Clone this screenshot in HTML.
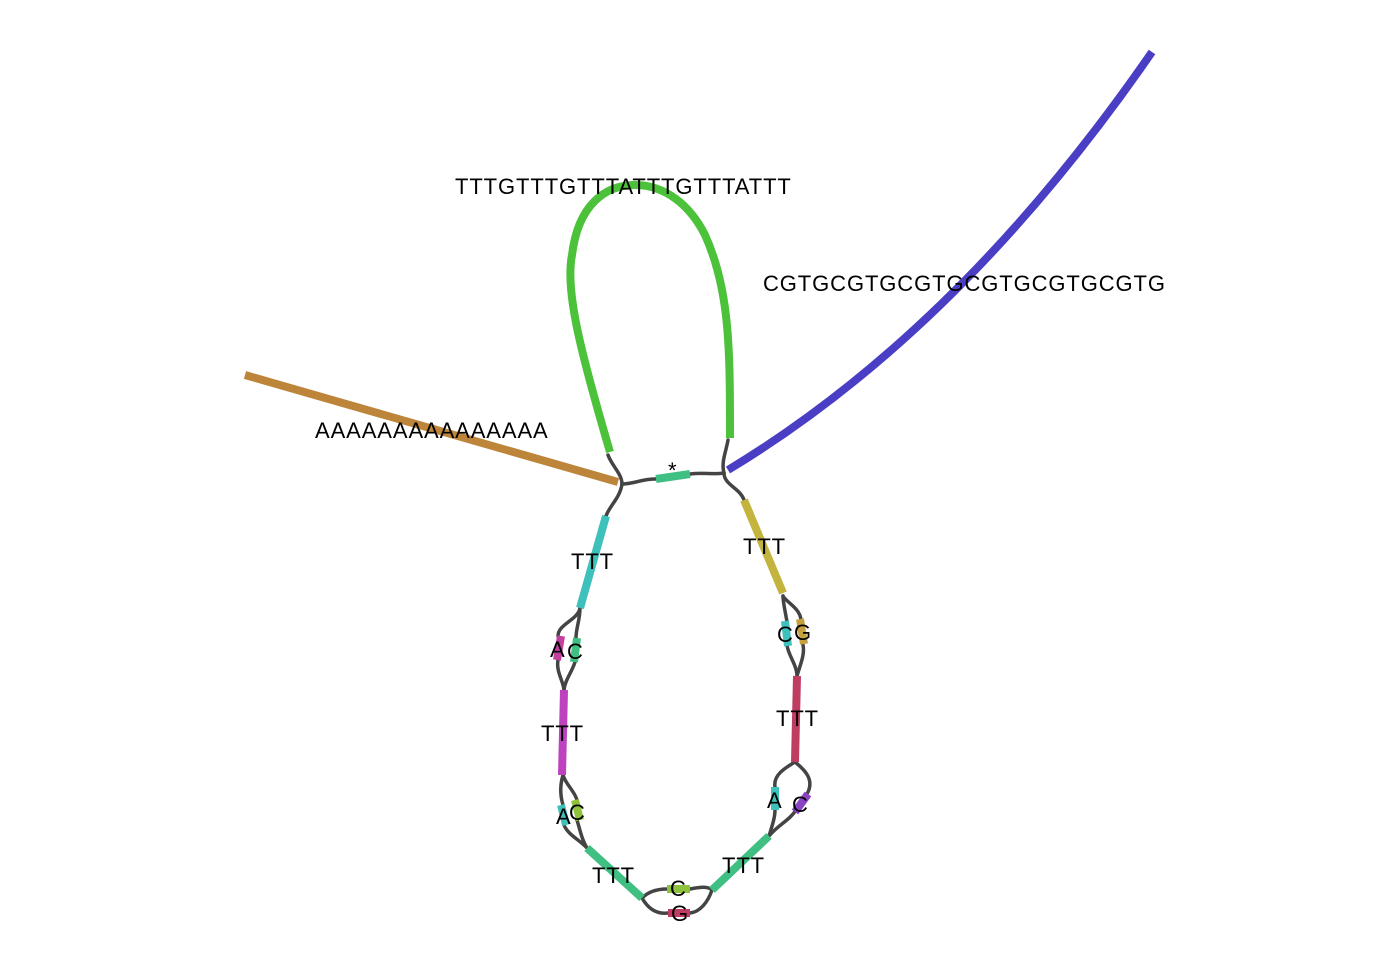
<!DOCTYPE html>
<html><head><meta charset="utf-8"><style>
html,body{margin:0;padding:0;background:#fff}
svg text{font-family:"Liberation Sans",sans-serif;font-size:22px;fill:#000;letter-spacing:0.9px}
</style></head><body>
<svg width="1400" height="964" viewBox="0 0 1400 964">
<g fill="none" stroke="#444" stroke-width="3.5" stroke-linecap="round">
<path d="M608,455 C612,466 622,474 622,484"/>
<path d="M622,484 C635,484 640,479 656,479"/>
<path d="M690,474 C705,472 712,475 724,473"/>
<path d="M728,440 C726,452 721,462 724,473"/>
<path d="M622,484 C620,498 610,505 606,516"/>
<path d="M580,608 C578,620 558,624 558,636"/>
<path d="M580,608 C580,620 576,628 576,638"/>
<path d="M558,660 C556,672 563,680 564,690"/>
<path d="M575,662 C572,672 565,680 564,690"/>
<path d="M563,775 C560,785 560,795 563,805"/>
<path d="M563,775 C566,785 574,790 577,800"/>
<path d="M564,825 C568,835 580,840 587,848"/>
<path d="M577,820 C580,830 582,840 587,848"/>
<path d="M642,898 C650,890 660,889 667,889"/>
<path d="M642,898 C650,912 660,914 668,913"/>
<path d="M690,889 C700,887 708,886 712,890"/>
<path d="M690,913 C700,912 708,902 712,890"/>
<path d="M769,836 C772,826 775,818 775,810"/>
<path d="M769,836 C778,825 790,820 796,810"/>
<path d="M775,787 C773,775 785,768 795,762"/>
<path d="M807,794 C815,780 805,770 795,762"/>
<path d="M797,676 C797,665 788,655 787,645"/>
<path d="M797,676 C800,665 805,655 803,645"/>
<path d="M787,622 C785,610 783,602 783,596"/>
<path d="M801,620 C800,608 786,602 783,596"/>
<path d="M744,500 C740,488 724,485 724,473"/>
</g>
<g fill="none" stroke-width="8">
<path d="M245,375 L618,482" stroke="#bd853a"/>
<path d="M728,470 Q960,330 1152,52" stroke="#4a3fc4"/>
<path d="M610,452 C580,350 565,290 572,255 C578,205 605,185 635,185 C665,185 690,205 705,235 C730,290 730,350 730,438" stroke="#4cc13a"/>
<path d="M656,479 L690,474" stroke="#3fbf82"/>
<path d="M606,516 L580,608" stroke="#3ec0bb"/>
<path d="M561,636 L557,660" stroke="#c23f9e"/>
<path d="M577,638 L574,662" stroke="#3fbf82"/>
<path d="M564,690 L562,775" stroke="#be42be"/>
<path d="M561,805 L566,825" stroke="#3ec0bb"/>
<path d="M575,800 L580,820" stroke="#8fc23c"/>
<path d="M587,848 L642,898" stroke="#3fbf82"/>
<path d="M667,889 L690,889" stroke="#8fc23c"/>
<path d="M668,913 L690,913" stroke="#c03d62"/>
<path d="M712,890 L769,836" stroke="#3fbf82"/>
<path d="M775,787 L775,810" stroke="#3ec0bb"/>
<path d="M808,794 L795,812" stroke="#8a43c2"/>
<path d="M797,676 L795,762" stroke="#c03d62"/>
<path d="M785,621 L788,646" stroke="#3ec0bb"/>
<path d="M800,619 L804,644" stroke="#c4a03e"/>
<path d="M744,500 L783,593" stroke="#c2b43c"/>
</g>
<g>
<text x="455" y="194">TTTGTTTGTTTATTTGTTTATTT</text>
<text x="763" y="291">CGTGCGTGCGTGCGTGCGTGCGTG</text>
<text x="315" y="438">AAAAAAAAAAAAAAA</text>
<text x="668" y="478">*</text>
<text x="571" y="569">TTT</text>
<text x="743" y="554">TTT</text>
<text x="550" y="657">A</text>
<text x="567" y="659">C</text>
<text x="777" y="642">C</text>
<text x="794" y="640">G</text>
<text x="541" y="741">TTT</text>
<text x="776" y="726">TTT</text>
<text x="556" y="824">A</text>
<text x="569" y="820">C</text>
<text x="767" y="808">A</text>
<text x="792" y="812">C</text>
<text x="592" y="883">TTT</text>
<text x="722" y="873">TTT</text>
<text x="670" y="896">C</text>
<text x="671" y="921">G</text>
</g>
</svg>
</body></html>
